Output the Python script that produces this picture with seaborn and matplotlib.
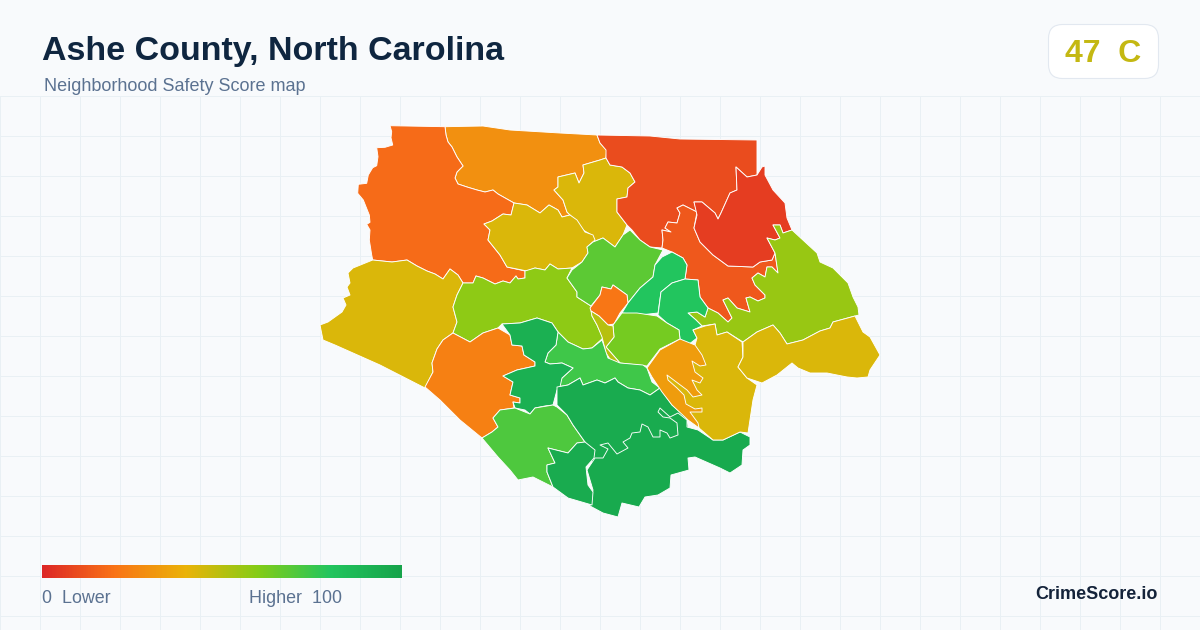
import numpy as np
import matplotlib.pyplot as plt
import seaborn as sns
from matplotlib.patches import FancyBboxPatch

# Text
title = 'Ashe County, North Carolina'
subtitle = 'Neighborhood Safety Score map'
grade = '47  C'
brand = 'CrimeScore.io'
legend_low = '0  Lower'
legend_high = 'Higher  100'

# Colour ramp of the score scale, evenly spaced from 0 to 100
ramp_colors = ['#dc2626', '#f97316', '#eab308', '#84cc16', '#22c55e', '#16a34a']

# Neighborhood outlines in image pixels
north = [(445, 126.7), (483, 126), (510, 130), (560, 133), (597, 135), (600, 143), (606.7, 150), (606, 158),
         (600, 160), (583, 165), (584, 173), (579, 183), (575, 173), (558, 177), (558, 187), (554, 190), (563, 200),
         (567, 212), (570, 215), (562, 217), (558, 210), (549, 205), (540, 213), (527, 205), (514, 203), (498, 194),
         (493, 190), (485, 192), (477, 190), (467, 187), (458, 184), (455, 178), (457, 172), (463, 166), (457, 157),
         (452, 147), (448, 142), (446, 135)]
west = [(390, 125.7), (445, 126.7), (446, 135), (448, 142), (452, 147), (457, 157), (463, 166), (457, 172), (455, 178),
        (458, 184), (467, 187), (477, 190), (485, 192), (493, 190), (498, 194), (514, 203), (511, 215), (503, 214),
        (492, 221), (484, 224), (490, 230), (488, 240), (500, 255), (507, 267), (525, 271), (525, 278), (518, 279),
        (516, 276), (510, 283), (503, 281), (495, 284), (483, 278), (476, 276), (473, 283), (463, 283), (458, 275),
        (450, 269), (443, 279), (435, 274), (427, 271), (417, 266), (407, 260), (392, 262), (372.7, 260), (371.7, 255),
        (369.3, 240), (370, 230), (366.7, 224.3), (370, 222.3), (369.3, 215), (363.3, 200), (357.7, 193.3),
        (358.3, 184.3), (366.7, 183.3), (368.3, 175), (372.7, 167.7), (376.7, 165.7), (378, 156.7), (376.7, 147.7),
        (385, 147.3), (392.7, 145), (391, 137.7), (391.7, 131.7)]
yellow_north = [(606, 158), (610, 165), (622, 167), (630, 173), (635, 182), (628, 188), (627, 197), (617, 199),
                (617, 212), (627, 225), (623, 235), (615, 247), (603, 238), (593, 242), (590, 234), (583, 230),
                (572, 217), (567, 212), (563, 200), (554, 190), (558, 187), (558, 177), (575, 173), (579, 183),
                (584, 173), (583, 165), (600, 160)]
yellow_center = [(514, 203), (527, 205), (540, 213), (549, 205), (558, 210), (562, 217), (570, 215), (577, 220),
                 (585, 232), (593, 235), (595, 240), (587, 247), (588, 253), (582, 262), (572, 268), (558, 269),
                 (550, 264), (545, 270), (535, 268), (527, 271), (507, 267), (500, 255), (488, 240), (490, 230),
                 (484, 224), (492, 221), (503, 214), (511, 215)]
northeast = [(597, 135), (650, 136), (680, 139), (757, 140), (757, 175), (747, 177), (736, 167), (737, 190), (730, 193),
             (721, 213), (718, 219), (715, 213), (702, 202), (694, 202), (697, 212), (683, 205), (677, 208), (680, 213),
             (677, 223), (668, 222), (665, 228), (671, 232), (662, 230), (663, 240), (662, 248), (650, 247), (640, 240),
             (632, 230), (627, 225), (617, 212), (617, 199), (627, 197), (628, 188), (635, 182), (630, 173), (622, 167),
             (610, 165), (606, 158), (606, 150), (600, 143)]
east_red = [(757, 175), (762, 167), (765, 166), (765, 175), (773, 190), (785, 203), (787, 218), (792, 230), (783, 233),
            (780, 225), (773, 225), (780, 238), (775, 240), (767, 238), (775, 253), (772, 260), (760, 262), (753, 267),
            (728, 266), (713, 255), (700, 242), (694, 228), (697, 215), (694, 202), (702, 202), (715, 213), (718, 219),
            (721, 213), (730, 193), (737, 190), (736, 167), (747, 177)]
east_orange = [(683, 205), (697, 212), (694, 228), (700, 242), (713, 255), (728, 266), (753, 267), (760, 262), (772, 260),
               (775, 253), (778, 273), (772, 267), (767, 267), (765, 277), (758, 273), (752, 278), (755, 285), (765, 295),
               (765, 298), (758, 301), (750, 297), (746, 298), (750, 312), (737, 308), (728, 298), (723, 300), (732, 318),
               (728, 322), (718, 313), (708, 308), (700, 297), (698, 280), (685, 279), (687, 265), (683, 258), (672, 252),
               (662, 248), (663, 240), (662, 230), (671, 232), (665, 228), (668, 222), (677, 223), (680, 213), (677, 208)]
east_lime = [(792, 230), (817, 253), (820, 262), (833, 268), (848, 283), (853, 297), (858, 307), (859, 315), (855, 316),
             (833, 322), (830, 328), (820, 331), (803, 340), (787, 344), (780, 333), (773, 325), (757, 332), (743, 342),
             (727, 332), (717, 335), (715, 324), (702, 326), (696, 320), (688, 313), (697, 312), (705, 317), (708, 308),
             (718, 313), (728, 322), (732, 318), (723, 300), (728, 298), (737, 308), (750, 312), (746, 298), (750, 297),
             (758, 301), (765, 298), (765, 295), (755, 285), (752, 278), (758, 273), (765, 277), (767, 267), (772, 267),
             (778, 273), (775, 253), (767, 238), (775, 240), (780, 238), (773, 225), (780, 225), (783, 233)]
southwest = [(372.7, 260), (353, 268), (348, 273), (350, 283), (347, 287), (350, 295), (343, 298), (346, 305), (342, 312),
             (328, 322), (320, 325), (323, 340), (335, 345), (380, 365), (425, 388), (433, 372), (432, 363), (437, 349),
             (443, 340), (453, 333), (457, 322), (453, 307), (457, 295), (463, 283), (458, 275), (450, 269), (443, 279),
             (435, 274), (427, 271), (417, 266), (407, 260), (392, 262)]
center_lime = [(463, 283), (473, 283), (476, 276), (483, 278), (495, 284), (503, 281), (510, 283), (516, 276), (518, 279),
               (525, 278), (525, 271), (535, 268), (545, 270), (550, 264), (558, 269), (572, 268), (567, 278), (577, 292),
               (577, 297), (591, 306), (592, 316), (597, 325), (603, 338), (592, 348), (583, 349), (568, 342), (558, 332),
               (552, 323), (537, 318), (520, 323), (502, 324), (498, 328), (483, 333), (470, 342), (453, 333), (457, 322),
               (453, 307), (457, 295)]
center_green = [(593, 242), (603, 238), (615, 247), (623, 235), (630, 230), (640, 240), (650, 247), (663, 250), (655, 265),
                (653, 277), (640, 288), (628, 303), (627, 295), (613, 285), (611, 289), (602, 287), (600, 295), (591, 306),
                (577, 297), (577, 292), (567, 278), (572, 270), (582, 262), (588, 253), (587, 247)]
center_orange = [(602, 287), (611, 289), (613, 285), (627, 295), (628, 303), (620, 313), (614, 324), (608, 325), (599, 316),
                 (591, 311), (590, 308), (600, 295)]
teal_north = [(655, 265), (662, 257), (672, 252), (683, 258), (687, 265), (685, 279), (672, 283), (661, 292), (658, 313),
              (640, 315), (622, 313), (628, 303), (640, 288), (653, 277)]
teal_south = [(685, 279), (698, 280), (700, 297), (708, 308), (705, 317), (697, 312), (688, 313), (696, 320), (702, 326),
              (693, 330), (697, 338), (688, 345), (680, 339), (679, 330), (667, 323), (658, 315), (661, 292), (672, 283)]
lime_south = [(613, 325), (622, 313), (637, 313), (657, 316), (667, 323), (679, 330), (680, 339), (660, 349), (647, 366),
              (620, 363), (606, 347), (614, 337)]
narrow_strip = [(591, 311), (599, 316), (608, 325), (613, 326), (614, 337), (606, 347), (620, 363), (612, 362), (606, 353),
                (602, 337), (597, 325), (592, 316)]
southwest_orange = [(425, 387), (433, 372), (432, 363), (437, 349), (443, 340), (453, 333), (470, 342), (483, 333), (498, 328),
                    (510, 335), (512, 345), (522, 346), (524, 355), (535, 362), (535, 366), (517, 370), (503, 376), (513, 382),
                    (510, 395), (520, 398), (520, 403), (513, 402), (514, 408), (500, 410), (493, 418), (498, 427), (492, 432),
                    (482, 438), (460, 420), (440, 400)]
dark_west = [(502, 324), (520, 323), (537, 318), (552, 323), (558, 332), (556, 345), (548, 353), (545, 362), (550, 364),
             (562, 363), (573, 368), (562, 378), (560, 387), (557, 390), (553, 405), (545, 406), (535, 408), (530, 414),
             (525, 410), (515, 408), (513, 402), (520, 403), (520, 398), (510, 395), (513, 382), (503, 376), (517, 370),
             (535, 366), (535, 362), (524, 355), (522, 346), (512, 345), (510, 335)]
mid_green = [(558, 332), (568, 342), (583, 349), (592, 348), (602, 340), (608, 358), (620, 363), (643, 365), (647, 368),
             (652, 382), (660, 388), (650, 395), (640, 390), (628, 388), (618, 382), (615, 378), (605, 383), (597, 380),
             (583, 385), (580, 378), (568, 385), (557, 387), (562, 378), (573, 368), (562, 363), (550, 364), (545, 362),
             (548, 353), (556, 345)]
light_green = [(515, 408), (530, 414), (535, 408), (553, 405), (557, 407), (567, 415), (573, 425), (585, 442), (577, 443),
               (568, 453), (548, 448), (555, 463), (547, 465), (547, 472), (553, 487), (533, 477), (518, 480), (510, 470),
               (498, 457), (482, 438), (492, 432), (498, 427), (493, 418), (500, 410)]
dark_center = [(557, 387), (568, 385), (580, 378), (583, 385), (597, 380), (605, 383), (615, 378), (618, 382), (628, 388),
               (640, 390), (650, 395), (660, 388), (672, 405), (687, 418), (690, 440), (600, 470), (590, 460), (585, 442),
               (573, 425), (567, 415), (557, 405), (557, 390)]
dark_south = [(595, 458), (603, 458), (608, 449), (600, 445), (608, 443), (617, 454), (628, 448), (623, 442), (630, 438),
              (632, 433), (640, 432), (642, 424), (648, 427), (653, 437), (660, 437), (660, 430), (667, 433), (670, 438),
              (678, 435), (677, 423), (670, 418), (663, 417), (658, 412), (660, 408), (670, 417), (678, 413), (687, 420),
              (687, 427), (698, 430), (713, 440), (723, 440), (740, 432), (750, 437), (750, 445), (743, 450), (742, 465),
              (730, 473), (720, 468), (695, 457), (688, 458), (689, 470), (671, 475), (670, 488), (658, 495), (645, 497),
              (639, 507), (622, 503), (618, 517), (603, 513), (590, 506), (593, 490), (587, 470)]
dark_pocket = [(548, 448), (568, 453), (577, 443), (585, 442), (595, 450), (594, 458), (586, 467), (588, 485), (593, 492),
               (592, 505), (568, 498), (553, 487), (547, 472), (547, 465), (555, 463)]
yellow_east = [(693, 330), (705, 326), (715, 324), (717, 335), (727, 332), (742, 342), (743, 357), (738, 367), (747, 378),
               (757, 385), (753, 400), (748, 433), (740, 432), (723, 440), (713, 440), (699, 428), (688, 412), (675, 395),
               (660, 380), (675, 360), (695, 345), (697, 338)]
orange_fingers = [(647, 368), (660, 350), (680, 339), (695, 345), (702, 355), (706, 365), (700, 366), (692, 361), (695, 372),
                  (703, 378), (700, 383), (692, 380), (697, 390), (702, 395), (693, 397), (687, 390), (667, 375), (668, 380),
                  (677, 388), (684, 395), (686, 404), (695, 409), (702, 408), (702, 412), (690, 412), (698, 423), (699, 428),
                  (688, 420), (672, 405), (662, 392), (652, 377)]
yellow_far_east = [(743, 342), (757, 332), (773, 325), (780, 333), (787, 344), (803, 340), (820, 331), (830, 328), (833, 322),
                   (855, 316), (863, 332), (870, 337), (880, 355), (870, 370), (868, 377), (857, 378), (847, 377), (827, 373),
                   (810, 373), (798, 368), (792, 363), (777, 375), (762, 383), (747, 378), (738, 367), (743, 357)]

# Later outlines sit on top of earlier ones
outlines = [north, west, yellow_north, yellow_center, northeast, east_orange, east_red, east_lime, southwest, center_lime,
            center_green, center_orange, teal_north, teal_south, lime_south, narrow_strip, southwest_orange, mid_green,
            dark_west, light_green, dark_center, dark_south, dark_pocket, yellow_east, orange_fingers, yellow_far_east]
scores = [29, 18, 43, 43, 10, 13, 6, 56, 43, 58,
          68, 21, 80, 80, 63, 50, 24, 74,
          92, 71, 95, 96, 95, 43, 33, 43]

# Set style
sns.set_style("white")
plt.rcParams['font.family'] = ['Liberation Sans', 'DejaVu Sans']
score_cmap = sns.blend_palette(ramp_colors, n_colors=256, as_cmap=True)

fig = plt.figure(figsize=(12, 6.3), dpi=100, facecolor='#f8fafc')

# The grid only starts below the header
ax = fig.add_axes([0, 0, 1, (630 - 96) / 630])
ax.set_facecolor('#f8fafc')
ax.set_xlim(0, 1200)
ax.set_ylim(630, 96)
ax.set_xticks(np.arange(0, 1200, 40))
ax.set_yticks(np.arange(96, 630, 40))
ax.grid(True, color='#e9f0f4', linewidth=0.72)
ax.set_axisbelow(True)
ax.tick_params(length=0, labelbottom=False, labelleft=False)
sns.despine(ax=ax, left=True, bottom=True)

# Draw the map
for outline, score in zip(outlines, scores):
    xs, ys = zip(*outline)
    ax.fill(xs, ys, facecolor=score_cmap(score / 100), edgecolor='white', linewidth=0.65, joinstyle='round')

# Header
ax.text(42, 60, title, fontsize=24.5, fontweight='bold', color='#0f2640')
ax.text(44, 91, subtitle, fontsize=13, color='#5b7291')

# Grade badge
badge = FancyBboxPatch((1048.5, 24.5), 110, 54, boxstyle='round,pad=0,rounding_size=14', facecolor='white',
                       edgecolor='#e2e8f0', linewidth=0.8, clip_on=False)
ax.add_patch(badge)
ax.text(1103, 62, grade, fontsize=23, fontweight='bold', color='#c4b812', ha='center')

# Colour scale
bar_ax = fig.add_axes([42 / 1200, 1 - 578 / 630, 360 / 1200, 13 / 630])
sns.heatmap(np.linspace(0, 100, 256).reshape(1, -1), cmap=score_cmap, vmin=0, vmax=100, cbar=False,
            xticklabels=False, yticklabels=False, ax=bar_ax)
ax.text(42, 603, legend_low, fontsize=12.9, color='#5b7291')
ax.text(249, 603, legend_high, fontsize=12.9, color='#5b7291')

# Brand
ax.text(1158, 599, brand, fontsize=13, fontweight='bold', color='#14233a', ha='right')

plt.savefig('out.png', dpi=100, facecolor=fig.get_facecolor())
plt.close()
